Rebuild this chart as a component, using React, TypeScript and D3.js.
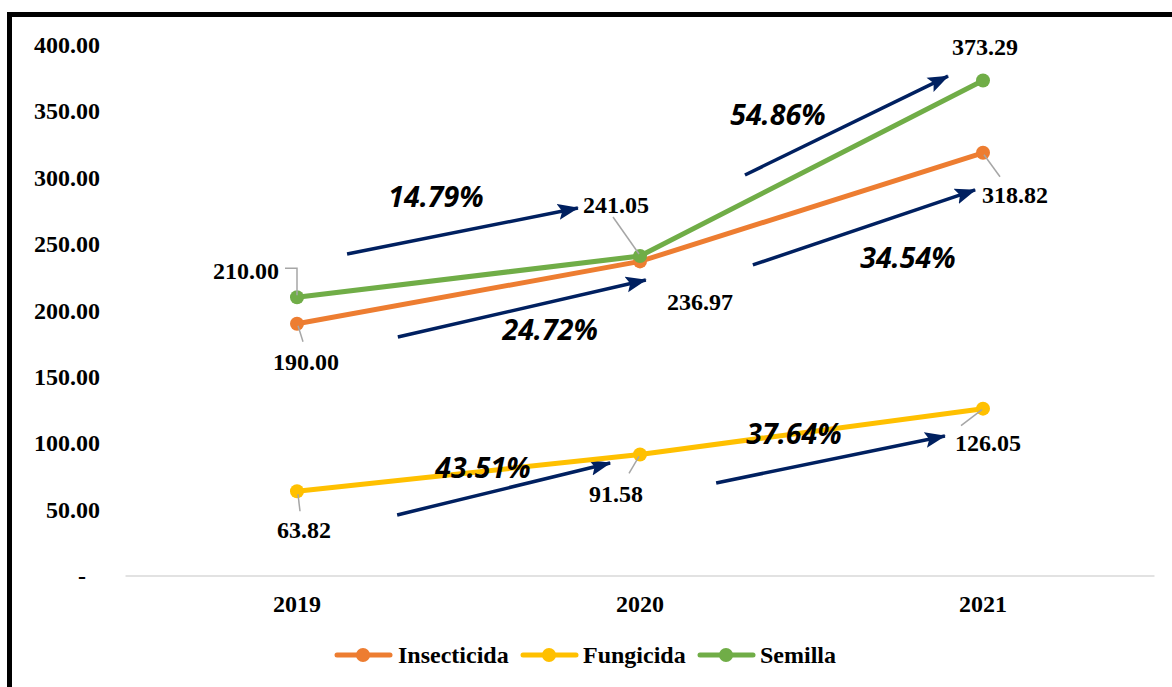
import React from "react";
import * as d3 from "d3";

const years = ["2019", "2020", "2021"];
const insecticida = [190.0, 236.97, 318.82];
const fungicida = [63.82, 91.58, 126.05];
const semilla = [210.0, 241.05, 373.29];
const yTicks = [0, 50, 100, 150, 200, 250, 300, 350, 400];
const seriesNames = ["Insecticida", "Fungicida", "Semilla"];
const growthLabels = ["14.79%", "24.72%", "54.86%", "34.54%", "43.51%", "37.64%"];

// annotation arrows in data space: [catIndexStart, valueStart, catIndexEnd, valueEnd]
const arrowsData: [number, number, number, number][] = [
  [0.146, 242.6, 0.819, 277.2],
  [0.294, 180.0, 1.017, 223.0],
  [1.306, 302.1, 1.898, 376.6],
  [1.329, 234.3, 1.977, 290.8],
  [0.292, 46.0, 0.913, 85.1],
  [1.222, 70.1, 1.889, 105.5],
];
// growth label centers in data space
const growthPos: [number, number][] = [
  [0.405, 285.5],
  [0.738, 185.3],
  [1.402, 347.3],
  [1.781, 239.5],
  [0.542, 81.4],
  [1.449, 107.0],
];

const W = 1172;
const H = 687;
const colors = ["#ED7D31", "#FFC000", "#70AD47"];
const serif = "'Liberation Serif', 'Times New Roman', serif";
const sans = "'Open Sans', 'Liberation Sans', sans-serif";
const FS = 24;

// label offsets (text center x, baseline y) and leader lines relative to point
const labelCfg: { dx: number; dy: number; leader?: [number, number][] }[][] = [
  [
    { dx: 9, dy: 46, leader: [[1, 2], [6, 18]] },
    { dx: 60, dy: 49 },
    { dx: 32, dy: 50, leader: [[1, 2], [17, 24]] },
  ],
  [
    { dx: 7, dy: 47, leader: [[1, 3], [3, 20]] },
    { dx: -24, dy: 48, leader: [[-1, 2], [-11, 19]] },
    { dx: 5, dy: 42, leader: [[-1, 1], [-22, 17]] },
  ],
  [
    { dx: -51, dy: -18, leader: [[0, -2], [0, -29], [-12, -29]] },
    { dx: -24, dy: -43, leader: [[-1, -2], [-27, -39]] },
    { dx: 2, dy: -25 },
  ],
];

export default function App() {
  const allSeries = [insecticida, fungicida, semilla];
  const x = d3.scaleBand<string>().domain(years).range([125.5, 1154.5]);
  const bw = x.bandwidth();
  const xc = (i: number) => (x(years[0]) as number) + bw / 2 + i * x.step();
  const y = d3.scaleLinear().domain([0, 400]).range([576, 45]);
  const fmt = d3.format(",.2f");
  const line = d3
    .line<number>()
    .x((_, i) => xc(i))
    .y((d) => y(d));

  const legendItems = [
    { x: 337, tx: 398 },
    { x: 523, tx: 583 },
    { x: 700, tx: 760 },
  ];

  return (
    <div style={{ position: "fixed", left: 0, top: 0 }}>
      <svg width={W} height={H} style={{ display: "block", background: "#fff" }}>
        <defs>
          <marker
            id="ah"
            markerUnits="userSpaceOnUse"
            markerWidth={22}
            markerHeight={18}
            viewBox="0 -9 22 18"
            refX={20}
            refY={0}
            orient="auto"
          >
            <path d="M0,-8 L21,0 L0,8 L4,0 Z" fill="#002060" />
          </marker>
        </defs>
        <rect x={9.5} y={14.5} width={1200} height={700} fill="none" stroke="#000" strokeWidth={5} />

        {/* baseline */}
        <line x1={125.5} x2={1154.5} y1={y(0)} y2={y(0)} stroke="#d9d9d9" strokeWidth={1.5} />

        {/* y tick labels */}
        {yTicks.map((t) => (
          <text
            key={t}
            x={t === 0 ? 86 : 100}
            y={y(t) + 8}
            textAnchor="end"
            fontFamily={serif}
            fontWeight="bold"
            fontSize={FS}
            fill="#000"
          >
            {t === 0 ? "-" : fmt(t)}
          </text>
        ))}

        {/* x labels */}
        {years.map((yr, i) => (
          <text
            key={yr}
            x={xc(i)}
            y={612}
            textAnchor="middle"
            fontFamily={serif}
            fontWeight="bold"
            fontSize={FS}
            fill="#000"
          >
            {yr}
          </text>
        ))}

        {/* arrows */}
        {arrowsData.map((a, i) => (
          <line
            key={i}
            x1={xc(a[0])}
            y1={y(a[1])}
            x2={xc(a[2])}
            y2={y(a[3])}
            stroke="#002060"
            strokeWidth={3.5}
            markerEnd="url(#ah)"
          />
        ))}

        {/* lines */}
        {allSeries.map((s, si) => (
          <g key={si}>
            <path d={line(s) || ""} fill="none" stroke={colors[si]} strokeWidth={5} strokeLinecap="round" />
            {s.map((v, i) => (
              <circle key={i} cx={xc(i)} cy={y(v)} r={7} fill={colors[si]} />
            ))}
          </g>
        ))}

        {/* growth labels */}
        {growthLabels.map((g, i) => (
          <text
            key={g}
            x={xc(growthPos[i][0])}
            y={y(growthPos[i][1]) + 10}
            textAnchor="middle"
            fontFamily={sans}
            fontWeight="bold"
            fontStyle="italic"
            fontSize={28.5}
            fill="#000"
          >
            {g}
          </text>
        ))}

        {/* data labels */}
        {allSeries.map((s, si) =>
          s.map((v, i) => {
            const cfg = labelCfg[si][i];
            const px = xc(i);
            const py = y(v);
            return (
              <g key={`${si}-${i}`}>
                {cfg.leader && (
                  <polyline
                    points={cfg.leader.map((p) => `${px + p[0]},${py + p[1]}`).join(" ")}
                    fill="none"
                    stroke="#a6a6a6"
                    strokeWidth={1.5}
                  />
                )}
                <text
                  x={px + cfg.dx}
                  y={py + cfg.dy}
                  textAnchor="middle"
                  fontFamily={serif}
                  fontWeight="bold"
                  fontSize={FS}
                  fill="#000"
                >
                  {fmt(v)}
                </text>
              </g>
            );
          })
        )}

        {/* legend */}
        {seriesNames.map((n, i) => (
          <g key={n}>
            <line
              x1={legendItems[i].x}
              x2={legendItems[i].x + 53}
              y1={655}
              y2={655}
              stroke={colors[i]}
              strokeWidth={5}
              strokeLinecap="round"
            />
            <circle cx={legendItems[i].x + 26} cy={655} r={7} fill={colors[i]} />
            <text
              x={legendItems[i].tx}
              y={663}
              fontFamily={serif}
              fontWeight="bold"
              fontSize={FS}
              fill="#000"
            >
              {n}
            </text>
          </g>
        ))}
      </svg>
    </div>
  );
}
